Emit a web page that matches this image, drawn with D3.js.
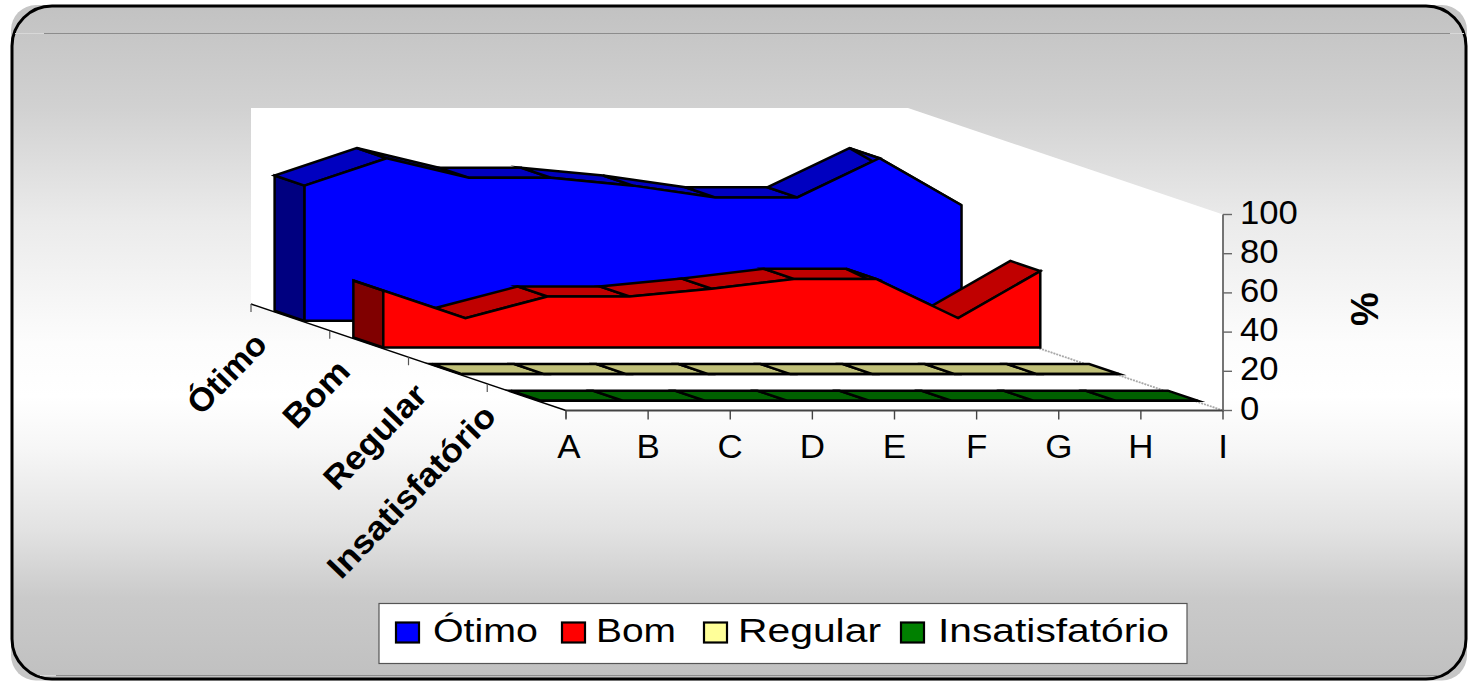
<!DOCTYPE html>
<html><head><meta charset="utf-8">
<script src="https://cdnjs.cloudflare.com/ajax/libs/d3/7.8.5/d3.min.js"></script>
<style>html,body{margin:0;padding:0;background:#fff}svg{display:block}text{font-family:"Liberation Sans",Arial,sans-serif;fill:#000}</style>
</head><body><svg id="c" width="1468" height="681"></svg>
<script>
const categories = ["A","B","C","D","E","F","G","H","I"];
const seriesNames = ["Ótimo","Bom","Regular","Insatisfatório"];
const otimo = [69,83,73,73,69,63,63,83,59];
const bom = [29,15,26,26,30,35,35,15,39];
const regular = [0,0,0,0,0,0,0,0,0];
const insatisfatorio = [0,0,0,0,0,0,0,0,0];
const valueTicks = [0,20,40,60,80,100];
const frontColors = ["#0000ff","#ff0000","#ffff99","#008000"];
const topColors = ["#0000c0","#c00000","#c0c078","#006000"];
const sideColors = ["#000080","#800000","#808050","#004000"];

const svg = d3.select("#c");
const allValues = [otimo,bom,regular,insatisfatorio];

const defs = svg.append("defs");
const grad = defs.append("linearGradient").attr("id","bg").attr("x1",0).attr("y1",0).attr("x2",0).attr("y2",1);
[[0,"#c2c2c2"],[0.15,"#d1d1d1"],[0.32,"#ebebeb"],[0.5,"#fcfcfc"],[0.58,"#ffffff"],[0.66,"#f6f6f6"],[0.78,"#e2e2e2"],[0.88,"#cacaca"],[1,"#c0c0c0"]]
  .forEach(s=>grad.append("stop").attr("offset",s[0]).attr("stop-color",s[1]));

// frame
svg.append("rect").attr("x",11).attr("y",5).attr("width",1456).attr("height",675.5).attr("rx",25).attr("fill","#c6c6c6");
svg.append("rect").attr("x",12).attr("y",6).attr("width",1454).attr("height",673).attr("rx",40).attr("fill","url(#bg)").attr("stroke","#000").attr("stroke-width",3);
svg.append("line").attr("x1",15).attr("x2",44).attr("y1",33.5).attr("y2",33.5).attr("stroke","#d8d8d8");
svg.append("line").attr("x1",44).attr("x2",1450).attr("y1",33.5).attr("y2",33.5).attr("stroke","#8c8c8c");
svg.append("line").attr("x1",1450).attr("x2",1464).attr("y1",33.5).attr("y2",33.5).attr("stroke","#d8d8d8");
svg.append("line").attr("x1",40).attr("x2",56).attr("y1",675.5).attr("y2",675.5).attr("stroke","#d8d8d8");
svg.append("line").attr("x1",56).attr("x2",1438).attr("y1",675.5).attr("y2",675.5).attr("stroke","#8c8c8c");

// oblique projection scales
const xCat = d3.scalePoint().domain(categories).range([566,1223]);
const depthX = d3.scaleLinear().domain([0,4]).range([0,-315]);
const depthY = d3.scaleLinear().domain([0,4]).range([0,-106.5]);
const yVal = d3.scaleLinear().domain([0,100]).range([410.5,214.5]);
const band = d3.scaleBand().domain(seriesNames.slice().reverse()).range([0,4]).paddingInner(0.62).paddingOuter(0.31);
const lift = -1.5;
const P = (c,k,v,l=0,dx=0)=>[xCat(c)+depthX(k)+dx, yVal(v)+depthY(k)+l];
const line = d3.line();
const first = categories[0], last = categories[categories.length-1];

// walls and floor
const walls = svg.append("g").attr("fill","#fff");
walls.append("path").attr("d",line([P(first,4,100),P(last,4,100),P(last,0,100),P(last,0,0),P(first,0,0),P(first,4,0)])+"Z");
svg.append("line").attr("x1",P(last,0,0)[0]).attr("y1",P(last,0,0)[1]).attr("x2",P(last,2.35,0)[0]).attr("y2",P(last,2.35,0)[1])
  .attr("stroke","#a8a8a8").attr("stroke-width",1.8).attr("stroke-dasharray","2 1");

// ribbons, back to front
const ribbons = svg.append("g").attr("stroke","#000").attr("stroke-width",2.5).attr("stroke-linejoin","miter").attr("stroke-miterlimit",10);
const shift = -0.8;
seriesNames.forEach((name,s)=>{
  const vals = allValues[s];
  const kF = band(name), kB = kF+band.bandwidth();
  const g = ribbons.append("g");
  g.append("path").attr("fill",sideColors[s])
    .attr("d",line([P(first,kB,0,lift,shift),P(first,kB,vals[0],lift,shift),P(first,kF,vals[0],lift,shift),P(first,kF,0,lift,shift)])+"Z");
  d3.pairs(categories.map((c,i)=>[c,vals[i]])).forEach(([a,b])=>{
    g.append("path").attr("fill",topColors[s])
      .attr("d",line([P(a[0],kF,a[1],lift,shift),P(a[0],kB,a[1],lift,shift),P(b[0],kB,b[1],lift,shift),P(b[0],kF,b[1],lift,shift)])+"Z");
  });
  const front = [P(first,kF,0,lift,shift),...categories.map((c,i)=>P(c,kF,vals[i],lift,shift)),P(last,kF,0,lift,shift)];
  g.append("path").attr("fill",frontColors[s]).attr("d",line(front)+"Z");
});

// axes
const ax = svg.append("g");
ax.append("line").attr("x1",P(first,4,0)[0]).attr("y1",P(first,4,0)[1]).attr("x2",P(first,0,0)[0]).attr("y2",P(first,0,0)[1]).attr("stroke","#000").attr("stroke-width",1.4);
d3.range(0,5).forEach(k=>{ const p=P(first,k,0);
  ax.append("line").attr("x1",p[0]).attr("x2",p[0]).attr("y1",p[1]).attr("y2",p[1]+8).attr("stroke","#555").attr("stroke-width",1.2);
});
ax.append("line").attr("x1",xCat(first)).attr("x2",xCat(last)+1).attr("y1",yVal(0)).attr("y2",yVal(0)).attr("stroke","#444").attr("stroke-width",1.8);
categories.forEach(c=>{
  ax.append("line").attr("x1",xCat(c)).attr("x2",xCat(c)).attr("y1",yVal(0)).attr("y2",yVal(0)+9).attr("stroke","#444").attr("stroke-width",1.4);
  svg.append("text").attr("transform",`translate(${xCat(c)+(c==="A"?3:0)},458) scale(1.06,1)`).attr("text-anchor","middle").attr("font-size",33).text(c);
});
ax.append("line").attr("x1",xCat(last)).attr("x2",xCat(last)).attr("y1",yVal(100)).attr("y2",yVal(0)).attr("stroke","#666").attr("stroke-width",1.8);
valueTicks.forEach(v=>{
  ax.append("line").attr("x1",xCat(last)).attr("x2",xCat(last)+9).attr("y1",yVal(v)).attr("y2",yVal(v)).attr("stroke","#666").attr("stroke-width",1.4);
  svg.append("text").attr("transform",`translate(1240,${yVal(v)+9}) scale(1.05,1)`).attr("font-size",33).text(v);
});
svg.append("text").attr("transform","translate(1378,309) rotate(-90)").attr("text-anchor","middle").attr("font-size",38).attr("font-weight","bold").text("%");

// depth labels
const depthAnchors = [[269,346],[352,373],[429,397],[498,418]];
const depthLens = [98,80,132,226];
seriesNames.forEach((n,i)=>{
  svg.append("text").attr("transform",`translate(${depthAnchors[i]}) rotate(-46)`).attr("text-anchor","end")
    .attr("font-size",33).attr("font-weight","bold").attr("textLength",depthLens[i]).attr("lengthAdjust","spacingAndGlyphs").text(n);
});

// legend
svg.append("rect").attr("x",379).attr("y",603.5).attr("width",808).attr("height",60).attr("fill","#fff").attr("stroke","#555").attr("stroke-width",1.2);
const swX=[396,562,704,901], txtX=[433,596,738,938], txtL=[105,80,143,231];
seriesNames.forEach((n,i)=>{
  svg.append("rect").attr("x",swX[i]).attr("y",622.5).attr("width",23).attr("height",20).attr("fill",frontColors[i]).attr("stroke","#000").attr("stroke-width",2.2);
  svg.append("text").attr("x",txtX[i]).attr("y",642).attr("font-size",34).attr("textLength",txtL[i]).attr("lengthAdjust","spacingAndGlyphs").text(n);
});
</script></body></html>
